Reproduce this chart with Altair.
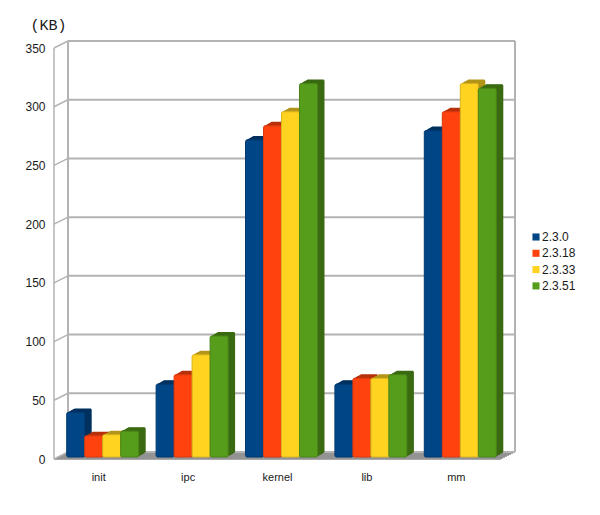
import altair as alt
import pandas as pd

categories = ["init", "ipc", "kernel", "lib", "mm"]
series_names = ["2.3.0", "2.3.18", "2.3.33", "2.3.51"]
v_230 = [38, 62, 270, 62, 278]
v_2318 = [18, 70, 282, 67, 294]
v_2333 = [19, 87, 294, 67, 318]
v_2351 = [22, 103, 318, 70, 314]
ticks = [0, 50, 100, 150, 200, 250, 300, 350]

front_colors = ["#004586", "#ff420e", "#ffd320", "#579d1c"]
edge_colors = ["#003a70", "#d93a10", "#d9b31c", "#4a8518"]
side_colors = ["#00315f", "#b8300a", "#b3941a", "#3a6a12"]

W, H = 447, 411
BAR = 18
DEPTH_UNITS = 7 / (H / 350)

rows = []
for i, (s, vals) in enumerate(zip(series_names, [v_230, v_2318, v_2333, v_2351])):
    for c, v in zip(categories, vals):
        rows.append({"category": c, "series": s, "value": v, "idx": i})
bars = pd.DataFrame(rows)
bars["side"] = bars["series"].map(dict(zip(series_names, side_colors)))
bars["edge"] = bars["series"].map(dict(zip(series_names, edge_colors)))

grid = pd.DataFrame({"v": ticks})
grid["v2"] = grid["v"] + DEPTH_UNITS
ends = pd.DataFrame({"v": [0], "v2": [350], "zero": [0]})

yscale = alt.Scale(domain=[0, 350], nice=False)
GRID = "#b3b3b3"
y_axis = alt.Axis(
    values=ticks, grid=False, domain=False, ticks=False, labelPadding=9,
    labelFont="Liberation Sans", labelFontSize=12, labelColor="#1a1a1a",
    title="(KB)", titleFont="Liberation Mono", titleFontSize=15, titleFontWeight="normal",
    titleColor="#1a1a1a", titleAngle=0, titleX=-6, titleY=-24, titleAlign="center",
    titleBaseline="middle")
x_axis = alt.Axis(
    title=None, labelAngle=0, domain=False, ticks=False, labelPadding=12,
    labelFont="Liberation Sans", labelFontSize=11, labelColor="#1a1a1a")


def Y(f):
    return alt.Y(f, scale=yscale, axis=y_axis)


floor_layers = [
    alt.Chart(ends).mark_rule(color="#8c8c8c", strokeWidth=1.4, xOffset=d * 2, x2Offset=d * 2, yOffset=-d).encode(
        x=alt.value(0), x2=alt.value(W), y=Y("zero:Q")
    )
    for d in range(0, 7)
]

gridlines = alt.Chart(grid).mark_rule(color=GRID, strokeWidth=2, xOffset=14, x2Offset=14, yOffset=-7).encode(
    x=alt.value(0), x2=alt.value(W), y=Y("v:Q"),
)
diagonals = alt.Chart(grid).mark_rule(color=GRID, strokeWidth=1.5).encode(
    x=alt.value(0), x2=alt.value(14), y=Y("v:Q"), y2="v2:Q",
)
front_left = alt.Chart(ends).mark_rule(color=GRID, strokeWidth=1.5).encode(
    x=alt.value(0), y=Y("v:Q"), y2="v2:Q")
back_left = alt.Chart(ends).mark_rule(color=GRID, strokeWidth=2, xOffset=14, yOffset=-7, y2Offset=-7).encode(
    x=alt.value(0), y=Y("v:Q"), y2="v2:Q")
back_right = alt.Chart(ends).mark_rule(color=GRID, strokeWidth=2, xOffset=14, yOffset=-7, y2Offset=-7).encode(
    x=alt.value(W), y=Y("v:Q"), y2="v2:Q")

xscale = alt.Scale(domain=categories, paddingInner=0, paddingOuter=0)
BX, BY = 4 + W / 5 / 2, -2


def bar_layer(dx, dy, **extra):
    return alt.Chart(bars).transform_calculate(
        off=f"(datum.idx - 1.5) * {BAR} + {dx}"
    ).mark_bar(cornerRadius=1.5, size=BAR, yOffset=dy, y2Offset=dy, **extra)


side_layers = [
    bar_layer(BX + d, BY - d * 4 / 7).encode(
        x=alt.X("category:N", scale=xscale, sort=categories, axis=x_axis),
        xOffset=alt.XOffset("off:Q", scale=None),
        y=Y("value:Q"),
        y2=alt.Y2(datum=0),
        color=alt.Color("side:N", scale=None),
    )
    for d in range(7, 0, -1)
]

front = bar_layer(BX, BY, strokeWidth=1).encode(
    x=alt.X("category:N", scale=xscale, sort=categories, axis=x_axis),
    xOffset=alt.XOffset("off:Q", scale=None),
    y=Y("value:Q"),
    y2=alt.Y2(datum=0),
    color=alt.Color("series:N", sort=series_names,
                    scale=alt.Scale(domain=series_names, range=front_colors),
                    legend=alt.Legend(title=None, orient="none", legendX=476, legendY=183,
                                      symbolType="square", symbolSize=50, symbolStrokeWidth=0,
                                      labelFont="Liberation Sans", labelFontSize=12,
                                      labelColor="#1a1a1a", rowPadding=4.3, labelOffset=0)),
    stroke=alt.Stroke("edge:N", scale=None),
)

chart = alt.layer(
    *floor_layers, gridlines, diagonals, front_left, back_left, back_right, *side_layers, front
).properties(
    width=W, height=H,
    autosize=alt.AutoSizeParams(type="none"),
    padding={"left": 46, "top": 40, "right": 91, "bottom": 48},
    background="white",
).configure_view(stroke=None)

chart.save("out.html", embed_options={"renderer": "svg", "actions": False})
